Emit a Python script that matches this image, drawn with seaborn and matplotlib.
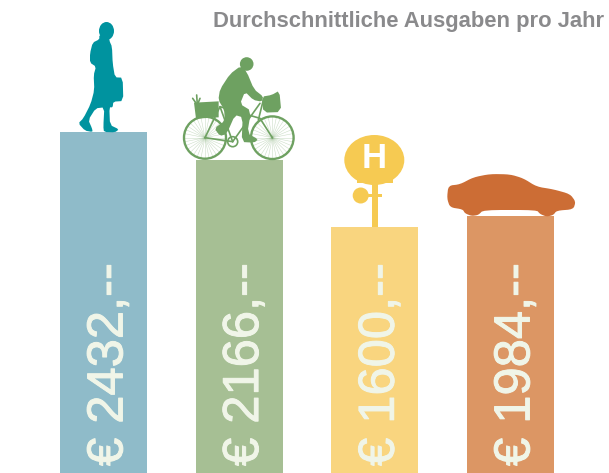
import numpy as np
import pandas as pd
import matplotlib
matplotlib.use("Agg")
import matplotlib.pyplot as plt
import matplotlib.patheffects as pe
from matplotlib.patches import Circle, Ellipse, Polygon, Rectangle
import seaborn as sns

categories = ["Zu Fuss", "Fahrrad", "Bus", "Auto"]
# bar heights as drawn, they are not proportional to the labels
bar_heights = [341, 313, 246, 257]
amounts = ["€ 2432,--", "€ 2166,--", "€ 1600,--", "€ 1984,--"]
bar_colors = ["#8fbbc9", "#a6bf94", "#f9d57f", "#dc9664"]
title = "Durchschnittliche Ausgaben pro Jahr"

TEAL = "#00939f"
GREEN = "#6ea161"
YELLOW = "#f6ca52"
ORANGE = "#cc6d35"

WOMAN = [(148,105),(178,105),(178,122),(186,140),(188,190),(195,232),(218,233),(220,303),(190,305),
         (188,322),(178,322),(180,375),(207,388),(195,397),(162,396),(160,380),(163,322),(137,325),
         (115,360),(126,385),(128,396),(105,392),(85,370),(100,355),(122,312),(133,270),(131,225),
         (138,200),(120,188),(120,160),(128,128),(148,118)]
RIDER = [(590,215),(612,268),(640,290),(635,305),(610,300),(585,275),(570,312),(603,332),(592,400),
         (625,418),(612,428),(575,426),(578,352),(555,345),(530,402),(510,408),(493,385),(525,362),
         (522,328),(505,300),(510,268),(540,222),(572,198)]
BASKET_L = [(432,308),(506,304),(506,352),(438,356)]
BASKET_R = [(636,290),(665,285),(688,272),(694,336),(640,338)]
CAR = [(385,197),(420,193),(460,172),(510,162),(570,163),(610,175),(650,200),(700,208),(750,222),
       (767,245),(760,268),(710,272),(700,285),(680,290),(660,282),(650,270),(490,270),(475,285),
       (455,288),(435,280),(428,268),(390,262),(381,235)]


def zoom1(points):
    return [(50 + x / 3, y / 3) for x, y in points]


def zoom2(points):
    return [(320 + x / 3, 120 + y / 3) for x, y in points]


def soften(points, rounds=2):
    # corner cutting so the silhouettes are not so angular
    pts = np.array(points, dtype=float)
    for _ in range(rounds):
        nxt = np.roll(pts, -1, axis=0)
        pts = np.column_stack([0.8 * pts + 0.2 * nxt, 0.2 * pts + 0.8 * nxt]).reshape(-1, 2)
    return pts


def draw_bike(ov):
    for cx, cy, r in [(205, 137.7, 21), (272.3, 137.7, 21.3)]:
        for a in np.linspace(0, np.pi, 17)[:-1]:
            dx, dy = r * np.cos(a), r * np.sin(a)
            ov.plot([cx - dx, cx + dx], [cy - dy, cy + dy], color=GREEN, lw=0.4, alpha=0.35)
        ov.add_patch(Circle((cx, cy), r, fc="none", ec=GREEN, lw=1.7))
    for seg in [[(465, 413), (510, 320), (630, 355), (667, 413)], [(510, 320), (548, 425)],
                [(630, 310), (548, 425)], [(465, 413), (548, 425)], [(640, 300), (625, 360)]]:
        ov.plot(*zip(*zoom1(seg)), color=GREEN, lw=1.2)
    ov.add_patch(Circle((232.7, 141.7), 5, fc="none", ec=GREEN, lw=1.2))
    ov.add_patch(Polygon(soften(zoom1(RIDER), 1), fc=GREEN, ec="none"))
    ov.add_patch(Circle((246.7, 64), 6.8, fc=GREEN, ec="none"))
    ov.add_patch(Polygon(zoom1(BASKET_L), fc=GREEN, ec="none"))
    ov.add_patch(Polygon(soften(zoom1(BASKET_R), 1), fc=GREEN, ec="none"))
    for tip in [(440, 285), (428, 295), (450, 295)]:
        ov.plot(*zip(*zoom1([(442, 315), tip])), color=GREEN, lw=1.2)


def main():
    sns.set_theme(style="white")
    fig = plt.figure(figsize=(6.09, 4.73), dpi=100)
    ax = fig.add_axes([0, 0, 1, 1])
    df = pd.DataFrame({"cat": categories, "height": bar_heights})
    sns.barplot(data=df, x="cat", y="height", hue="cat", palette=bar_colors, saturation=1,
                width=87 / 135.67, legend=False, linewidth=0, ax=ax)
    ax.set_xlim(-103.5 / 135.67, (609 - 103.5) / 135.67)
    ax.set_ylim(0, 473)
    ax.axis("off")

    for i, label in enumerate(amounts):
        t = ax.text(i + 0.04, 7, label, rotation=90, ha="center", va="bottom", color="#f0f5e8",
                    fontsize=36.5, family=["Liberation Sans", "DejaVu Sans"])
        t.set_path_effects([pe.withStroke(linewidth=0.7, foreground="#f0f5e8")])

    # icons sit on an overlay that uses image pixels
    ov = fig.add_axes([0, 0, 1, 1])
    ov.set_xlim(0, 609)
    ov.set_ylim(473, 0)
    ov.axis("off")
    ov.patch.set_alpha(0)

    ov.add_patch(Polygon(soften(zoom1(WOMAN), 1), fc=TEAL, ec="none"))
    ov.add_patch(Ellipse((106.5, 31), 15, 18, fc=TEAL, ec="none"))
    draw_bike(ov)

    ov.add_patch(Ellipse((374.3, 160), 60, 50, fc=YELLOW, ec="none"))
    ov.add_patch(Rectangle((357, 178), 36, 5, fc=YELLOW, ec="none"))
    ov.add_patch(Rectangle((371.5, 183), 6, 44, fc=YELLOW, ec="none"))
    ov.add_patch(Circle((360.7, 195.5), 8, fc=YELLOW, ec="none"))
    ov.add_patch(Rectangle((368, 194), 14, 3, fc=YELLOW, ec="none"))
    ov.text(374.5, 158.5, "H", color="white", fontsize=25, fontweight="bold", ha="center",
            va="center", family=["Liberation Sans", "DejaVu Sans"])

    ov.add_patch(Polygon(soften(zoom2(CAR), 2), fc=ORANGE, ec="none"))

    ov.text(604, 21, title, color="#8a8a8c", fontsize=15.8, fontweight="bold", ha="right",
            va="center", family=["Liberation Sans", "DejaVu Sans"])

    fig.savefig("out.png", dpi=100)


if __name__ == "__main__":
    main()
